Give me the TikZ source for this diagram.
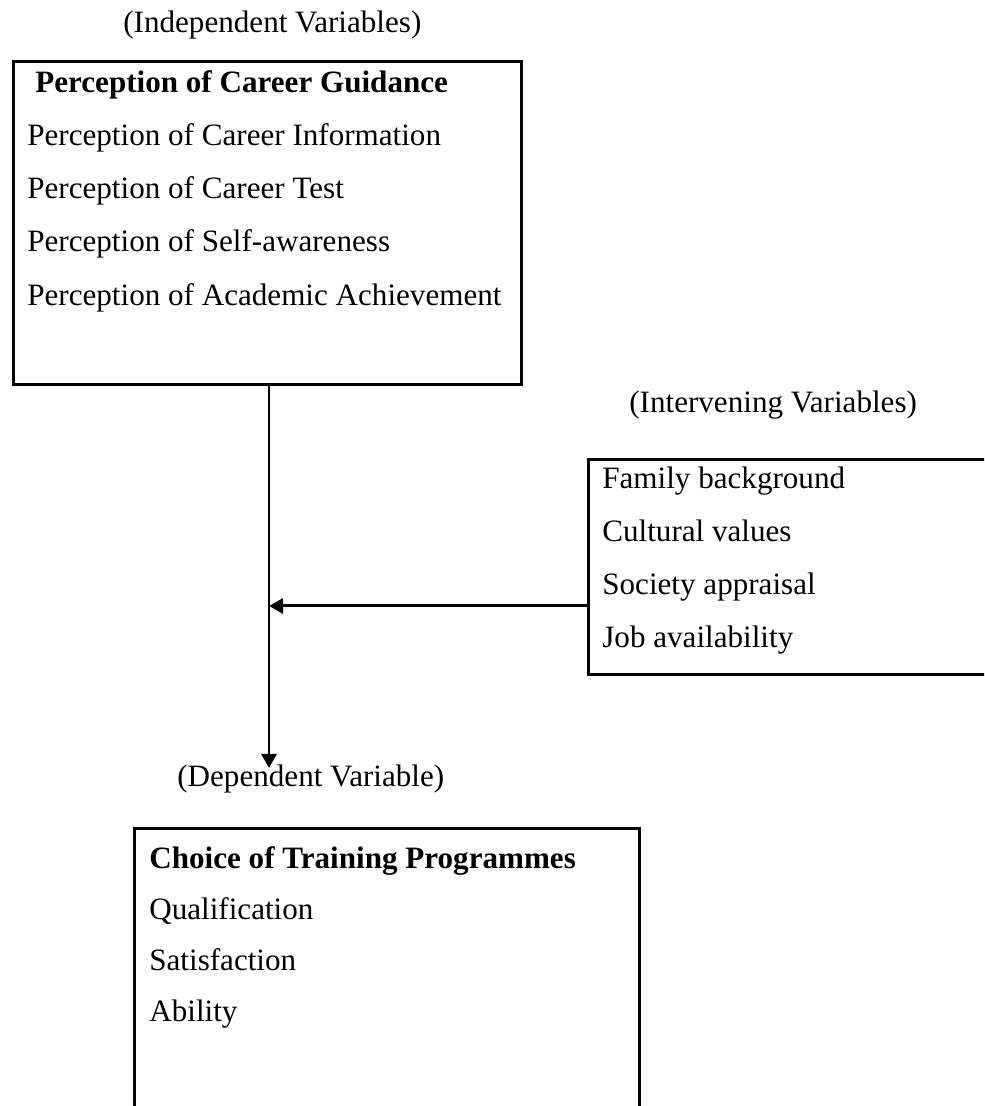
\documentclass[tikz,border=0pt]{standalone}
\usepackage{fontspec}
\setmainfont{Liberation Serif}
\usetikzlibrary{arrows.meta}

\tikzset{
  txt/.style={anchor=base west,inner sep=0pt,font=\fontsize{17.7}{21}\selectfont},
  hdr/.style={txt,font=\fontsize{17.7}{21}\selectfont\bfseries},
  varbox/.style={draw,line width=1.8pt,anchor=north west,inner sep=0pt},
  link/.style={line width=1.7pt,-{Triangle[length=8pt,width=8.5pt]}}
}

\begin{document}
\begin{tikzpicture}
\useasboundingbox (0,0) rectangle (19.68,22.12);
\clip (0,0) rectangle (19.68,22.12);

\node[txt] (indlabel) at (2.46,21.46) {(Independent Variables)};
\node[varbox,minimum width=10.16cm,minimum height=6.46cm] (guidance) at (0.24,20.92) {};
\node[hdr] (guidtitle) at (0.70,20.26) {Perception of Career Guidance};
\node[txt] (info) at (0.54,19.20) {Perception of Career Information};
\node[txt] (test) at (0.54,18.14) {Perception of Career Test};
\node[txt] (self) at (0.54,17.08) {Perception of Self-awareness};
\node[txt] (acad) at (0.54,16.00) {Perception of Academic Achievement};

\node[txt] (intlabel) at (12.58,13.86) {(Intervening Variables)};
\node[varbox,minimum width=9cm,minimum height=4.30cm] (intervening) at (11.74,12.96) {};
\node[txt] (family) at (12.04,12.34) {Family background};
\node[txt] (culture) at (12.04,11.28) {Cultural values};
\node[txt] (society) at (12.04,10.22) {Society appraisal};
\node[txt] (job) at (12.04,9.16) {Job availability};

\node[txt] (deplabel) at (3.54,6.38) {(Dependent Variable)};
\node[varbox,minimum width=10.10cm,minimum height=6.5cm] (choice) at (2.66,5.58) {};
\node[hdr] (choicetitle) at (2.98,4.74) {Choice of Training Programmes};
\node[txt] (qual) at (2.98,3.72) {Qualification};
\node[txt] (satis) at (2.98,2.70) {Satisfaction};
\node[txt] (ability) at (2.98,1.68) {Ability};

\coordinate (tip) at (5.38,6.76);
\coordinate (join) at (5.38,10.00);
\draw[link] (guidance.south -| tip) -- (tip);
\draw[link] (intervening.west |- join) -- (join);
\end{tikzpicture}
\end{document}
